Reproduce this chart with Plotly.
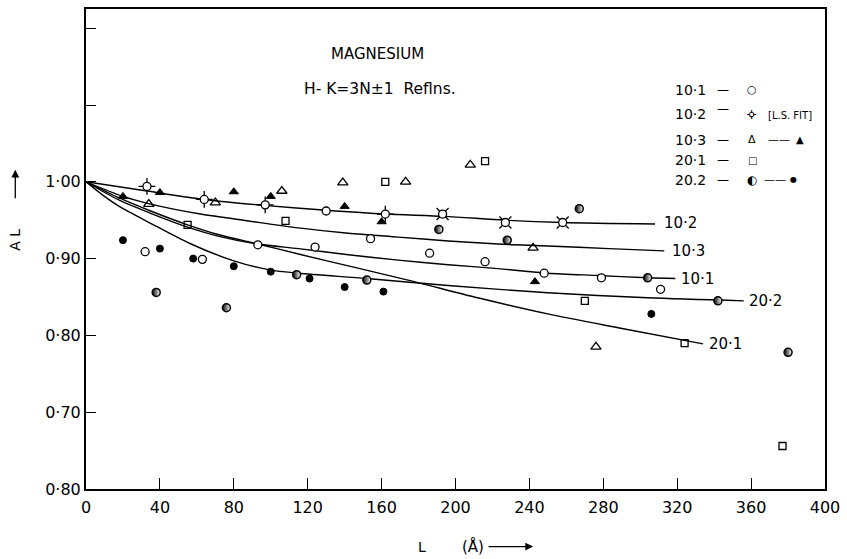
import plotly.graph_objects as go

# ---------------- data ----------------
# fitted curves (L in Angstrom, A_L)
c101_L = [0, 18, 35, 55, 72, 93, 115, 142, 169, 196, 223, 250, 277, 304, 319]
c101_A = [1.000, 0.976, 0.959, 0.941, 0.929, 0.919, 0.913, 0.905, 0.898, 0.892, 0.887, 0.881, 0.878, 0.875, 0.874]

c102_L = [0, 33, 64, 98, 130, 162, 194, 227, 258, 308]
c102_A = [1.000, 0.988, 0.977, 0.969, 0.963, 0.958, 0.955, 0.950, 0.947, 0.945]

c103_L = [0, 20, 35, 62, 88, 115, 142, 169, 196, 223, 250, 283, 313]
c103_A = [1.000, 0.981, 0.971, 0.958, 0.949, 0.940, 0.933, 0.928, 0.923, 0.919, 0.9165, 0.913, 0.910]

c201_L = [0, 18, 35, 55, 72, 93, 115, 142, 176, 212, 250, 288, 334]
c201_A = [1.000, 0.979, 0.962, 0.944, 0.931, 0.919, 0.906, 0.8905, 0.871, 0.849, 0.828, 0.810, 0.789]

c202_L = [0, 10, 18, 35, 56, 80, 100, 115, 152, 196, 250, 304, 356]
c202_A = [1.000, 0.981, 0.968, 0.946, 0.920, 0.897, 0.885, 0.881, 0.874, 0.865, 0.8555, 0.849, 0.845]

# 10.1 open circles
p101_L = [32, 63, 93, 124, 130, 154, 186, 216, 248, 279, 311]
p101_A = [0.909, 0.899, 0.918, 0.915, 0.962, 0.926, 0.907, 0.896, 0.881, 0.875, 0.860]

# 10.2 least-squares fit points
p102a_L = [33, 64, 97, 162]
p102a_A = [0.994, 0.977, 0.970, 0.958]
p102b_L = [193, 227, 258]
p102b_A = [0.958, 0.947, 0.947]

# 10.3 open triangles / filled triangles
p103o_L = [34, 70, 106, 139, 173, 208, 242, 276]
p103o_A = [0.971, 0.973, 0.988, 0.999, 1.000, 1.022, 0.914, 0.785]
p103f_L = [20, 40, 80, 100, 140, 160, 243]
p103f_A = [0.981, 0.986, 0.987, 0.981, 0.968, 0.948, 0.870]

# 20.1 open squares
p201_L = [55, 108, 162, 216, 270, 324, 377]
p201_A = [0.944, 0.949, 1.000, 1.027, 0.845, 0.790, 0.656]

# 20.2 filled circles / half-filled circles
p202f_L = [20, 40, 58, 80, 100, 121, 140, 161, 306]
p202f_A = [0.924, 0.913, 0.900, 0.890, 0.883, 0.874, 0.863, 0.857, 0.828]
p202h_L = [38, 76, 114, 152, 191, 228, 267, 304, 342, 380]
p202h_A = [0.856, 0.836, 0.879, 0.872, 0.938, 0.924, 0.965, 0.875, 0.845, 0.778]

x_ticks = [0, 40, 80, 120, 160, 200, 240, 280, 320, 360, 400]
y_ticks = [0.6, 0.7, 0.8, 0.9, 1.0, 1.1, 1.2]
y_tick_text = ["0·80", "0·70", "0·80", "0·90", "1·00", "", ""]

FONT = "DejaVu Sans"
BLK = "black"

fig = go.Figure()

def curve(L, A):
    fig.add_trace(go.Scatter(x=L, y=A, mode="lines", line=dict(color=BLK, width=1.4, shape="spline", smoothing=0.8),
                             hoverinfo="skip", showlegend=False))

for L, A in [(c101_L, c101_A), (c102_L, c102_A), (c103_L, c103_A), (c201_L, c201_A), (c202_L, c202_A)]:
    curve(L, A)

def pts(L, A, symbol, size, width=1.3, fill=None, gradient=None):
    m = dict(symbol=symbol, size=size, color=fill if fill else BLK, line=dict(color=BLK, width=width))
    if gradient:
        m["gradient"] = gradient
    fig.add_trace(go.Scatter(x=L, y=A, mode="markers", marker=m, showlegend=False))

pts(p102a_L, p102a_A, "cross-thin-open", 12, 1.3)
pts(p102b_L, p102b_A, "x-thin-open", 12, 1.3)
pts(p102a_L + p102b_L, p102a_A + p102b_A, "circle", 8, 1.3, fill="white")
pts(p101_L, p101_A, "circle", 8, 1.3, fill="white")
pts(p103o_L, p103o_A, "triangle-up-open", 9, 1.3)
pts(p103f_L, p103f_A, "triangle-up", 8, 1)
pts(p201_L, p201_A, "square-open", 7, 1.3)
pts(p202f_L, p202f_A, "circle", 7, 1)
pts(p202h_L, p202h_A, "circle", 8, 1.5, fill=BLK, gradient=dict(type="horizontal", color="white"))

ann = []
def txt(x, y, s, size=13, xanchor="left", ref="data", angle=0, yanchor="middle"):
    d = dict(x=x, y=y, text=s, showarrow=False, xanchor=xanchor, yanchor=yanchor, textangle=angle,
             font=dict(family=FONT, size=size, color=BLK))
    if ref == "paper":
        d.update(xref="paper", yref="paper")
    else:
        d.update(xref="x", yref="y")
    ann.append(d)

def arrow(x1, y1, ax, ay):
    # arrow with tip at paper (x1,y1), tail offset (ax, ay) in pixels
    ann.append(dict(x=x1, y=y1, ax=ax, ay=ay, xref="paper", yref="paper",
                    showarrow=True, arrowhead=2, arrowsize=1.2, arrowwidth=1.3, arrowcolor=BLK, text=""))

# title texts
txt(158, 1.167, "MAGNESIUM", 15, "center")
txt(117, 1.121, "H- K=3N±1  Reflns.", 15.5, "left")

# legend block
txt(327, 1.120, "10·1", 14, "center"); txt(345, 1.120, "—", 12, "center"); txt(360.6, 1.120, "○", 11, "center")
txt(327, 1.088, "10·2", 14, "center"); txt(345, 1.095, "—", 12, "center"); txt(360.6, 1.088, "¤", 13, "center", angle=45)
txt(368, 1.086, "[L.S. FIT]", 10, "left")
txt(327, 1.055, "10·3", 14, "center"); txt(345, 1.055, "—", 12, "center"); txt(360.6, 1.055, "Δ", 11, "center")
txt(375, 1.055, "——", 11, "center"); txt(386.5, 1.055, "▲", 10, "center")
txt(327, 1.028, "20·1", 14, "center"); txt(345, 1.028, "—", 12, "center"); txt(360.6, 1.028, "□", 10, "center")
txt(327, 1.003, "20.2", 14, "center"); txt(345, 1.003, "—", 12, "center"); txt(360.6, 1.003, "◐", 12, "center")
txt(373, 1.003, "——", 11, "center"); txt(383, 1.003, "●", 8, "center")

# curve labels
txt(312, 0.946, "10·2", 15)
txt(316, 0.910, "10·3", 15)
txt(321, 0.874, "10·1", 15)
txt(358, 0.845, "20·2", 15)
txt(336, 0.789, "20·1", 15)

# axis titles (paper coords)
txt(-0.0957, 0.52, "A L", 14, "center", ref="paper", angle=-90)
arrow(-0.0957, 0.665, 0, 30)
txt(0.454, -0.120, "L", 14, "center", ref="paper")
txt(0.524, -0.120, "(Å)", 15, "center", ref="paper")
arrow(0.605, -0.120, -46, 0)

fig.update_layout(
    width=847, height=559,
    margin=dict(l=86, r=19, t=7, b=70),
    paper_bgcolor="white", plot_bgcolor="white",
    showlegend=False,
    annotations=ann,
    font=dict(family=FONT, size=15, color=BLK),
    xaxis=dict(range=[0, 400], tickvals=x_ticks, ticks="inside", ticklen=11, tickwidth=1.3, tickcolor=BLK,
               showline=True, linecolor=BLK, linewidth=2, mirror=True, showgrid=False, zeroline=False,
               tickfont=dict(family=FONT, size=16, color=BLK), ticklabelstandoff=3),
    yaxis=dict(range=[0.6, 1.225], tickvals=y_ticks, ticktext=y_tick_text, ticks="inside", ticklen=10,
               tickwidth=1.3, tickcolor=BLK, showline=True, linecolor=BLK, linewidth=2, mirror=True,
               showgrid=False, zeroline=False, tickfont=dict(family=FONT, size=16, color=BLK)),
)

fig.write_html("out.html")
